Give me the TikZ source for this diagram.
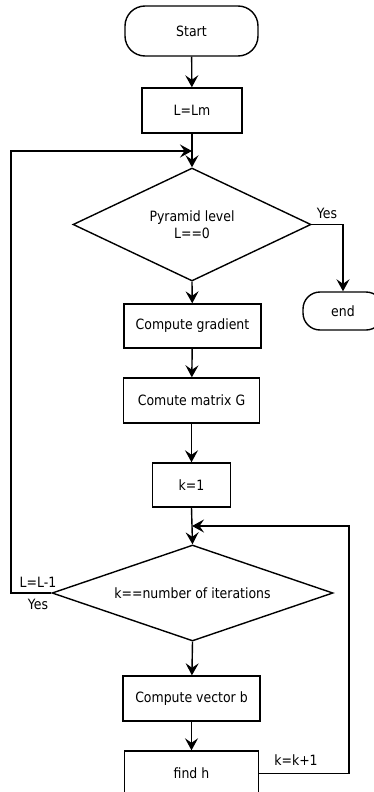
\documentclass[tikz,border=0pt]{standalone}
\usepackage{fontspec}
\setmainfont{DejaVu Sans}[FakeStretch=0.88]
\usetikzlibrary{arrows.meta,shapes.geometric}

\tikzset{
  flow/.style={line width=1.4pt, draw=black},
  arr/.style={flow, -{Stealth[length=12pt,width=13pt,inset=4.5pt]}},
  txt/.style={font=\fontsize{14.2}{16}\selectfont},
  procbox/.style={flow, txt, rectangle, inner sep=0pt},
  terminal/.style={flow, txt, rectangle, rounded corners=20pt, inner sep=0pt},
  decision/.style={flow, diamond, inner sep=0pt},
  dtext/.style={align=center, inner sep=0pt, font=\fontsize{14.2}{17}\selectfont},
  lbl/.style={txt, inner sep=0pt},
}

\begin{document}
\begin{tikzpicture}[x=1pt, y=-1pt]
  \useasboundingbox[fill=white] (0,0) rectangle (374,792);

  % terminals
  \node[terminal, minimum width=133pt, minimum height=50pt] (start) at (191.5,31) {Start};
  \node[terminal, rounded corners=17pt, minimum width=80pt, minimum height=38pt] (stop) at (343,311) {end};

  % processes
  \node[procbox, minimum width=100pt, minimum height=45pt] (lm) at (192,110.5) {L=Lm};
  \node[procbox, minimum width=137pt, minimum height=44pt] (grad) at (192.5,326) {Compute gradient};
  \node[procbox, minimum width=136pt, minimum height=45pt] (matg) at (191.5,400.5) {Comute matrix G};
  \node[procbox, minimum width=78pt, minimum height=44pt] (k1) at (191.5,485) {k=1};
  \node[procbox, minimum width=137pt, minimum height=45pt] (vecb) at (191.5,698.5) {Compute vector b};
  \node[procbox, minimum width=134pt, minimum height=45pt] (findh) at (191.5,773.5) {find h};

  % decisions
  \node[decision, minimum width=238pt, minimum height=113pt] (lvl) at (192,224.5) {};
  \node[dtext] (lvltext) at (lvl.center) {Pyramid level\\L==0};
  \node[decision, minimum width=281pt, minimum height=96pt] (iter) at (192.5,593) {};
  \node[dtext] (itertext) at (iter.center) {k==number of iterations};

  % junction points of the two loops
  \coordinate (m1) at (192,151);
  \coordinate (m2) at (192,526);
  \coordinate (lloop) at (11,151);
  \coordinate (rloop) at (349,526);

  % main flow
  \draw[arr] (start) -- (lm);
  \draw[arr] (lm) -- (lvl.north);
  \draw[arr] (lvl.south) -- (grad);
  \draw[arr] (grad) -- (matg);
  \draw[arr] (matg) -- (k1);
  \draw[arr] (k1.south) -- (iter.north);
  \draw[arr] (iter.south) -- (vecb);
  \draw[arr] (vecb) -- (findh);

  % exit branch
  \draw[arr] (lvl.east) -| (stop.north);

  % outer loop: next pyramid level
  \draw[arr] (iter.west) -| (lloop) -- (m1);

  % inner loop: next iteration
  \draw[arr] (findh.east) -| (rloop) -- (m2);

  % branch labels
  \node[lbl] (yes1) at (327,213) {Yes};
  \node[lbl] (ldec) at (38,582) {L=L-1};
  \node[lbl] (yes2) at (38,604) {Yes};
  \node[lbl] (kinc) at (296,760) {k=k+1};
\end{tikzpicture}
\end{document}
